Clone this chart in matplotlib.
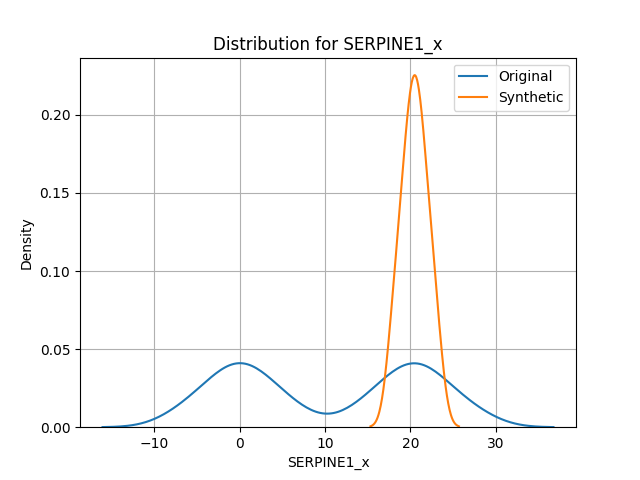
import matplotlib
matplotlib.use("Agg")
import matplotlib.pyplot as plt
import seaborn as sns

# samples for the kde curves
original = [-6.8, -4.0, -2.5, -1.2, -0.4, 0.4, 1.2, 2.5, 4.0, 6.5,
            14.0, 16.5, 18.0, 19.3, 20.1, 20.9, 21.7, 23.0, 24.5, 27.5]
synthetic = [18.0, 19.0, 19.6, 20.1, 20.5, 20.9, 21.4, 22.0, 23.0]

fig, ax = plt.subplots(figsize=(6.4, 4.8))
sns.kdeplot(original, ax=ax, label="Original", bw_adjust=0.5)
sns.kdeplot(synthetic, ax=ax, label="Synthetic", bw_adjust=0.9)
ax.set_title("Distribution for SERPINE1_x")
ax.set_xlabel("SERPINE1_x")
ax.set_ylabel("Density")
ax.legend()
ax.grid(True)
fig.savefig("out.png", dpi=100)
